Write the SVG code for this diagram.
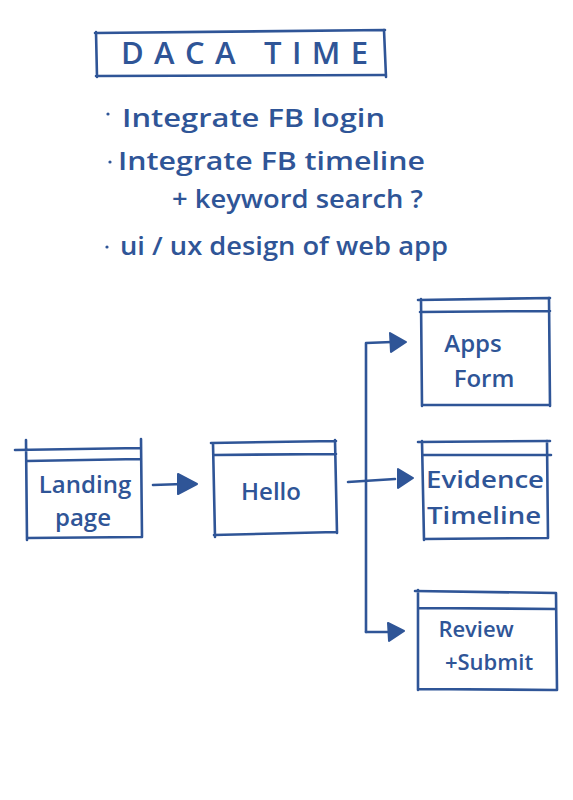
<svg xmlns="http://www.w3.org/2000/svg" width="573" height="800" viewBox="0 0 573 800">
<style>
.ln{fill:none;stroke:#2f5597;stroke-width:2.6;stroke-linecap:round;stroke-linejoin:round}
.tx{font-family:"Open Sans","Liberation Sans",sans-serif;font-weight:600;fill:#2f5597}
.lbl{font-size:24px;text-anchor:middle}
.ah{fill:#2f5597;stroke:#2f5597;stroke-width:2;stroke-linejoin:round}
</style>
<rect width="573" height="800" fill="#ffffff"/>
<g id="title">
<path class="ln" d="M95 33 L385 30 M96 32 L97 77 M96 76 L384 75 M384 30 L386 77"/>
<text class="tx" x="121" y="64" font-size="31" font-weight="500" textLength="247" lengthAdjust="spacing">DACA TIME</text>
</g>
<g id="notes">
<circle cx="108" cy="114" r="1.6" fill="#2f5597"/>
<text class="tx" x="122" y="127" font-size="26" textLength="263" lengthAdjust="spacingAndGlyphs">Integrate FB login</text>
<circle cx="110" cy="162" r="1.6" fill="#2f5597"/>
<text class="tx" x="118" y="170" font-size="26" textLength="307" lengthAdjust="spacingAndGlyphs">Integrate FB timeline</text>
<text class="tx" x="172" y="208" font-size="26" textLength="251" lengthAdjust="spacingAndGlyphs">+ keyword search ?</text>
<circle cx="107" cy="247" r="1.6" fill="#2f5597"/>
<text class="tx" x="120" y="255" font-size="26" textLength="328" lengthAdjust="spacingAndGlyphs">ui / ux design of web app</text>
</g>
<g id="landing">
<path class="ln" d="M15 450 L141 448 M26 440 L27 540 M141 439 L142 537 M27 461 L140 459 M27 538 L141 537"/>
<text class="tx lbl" x="85" y="493">Landing</text>
<text class="tx lbl" x="83" y="526">page</text>
</g>
<g id="hello">
<path class="ln" d="M211 443 L336 441 M213 443 L215 537 M335 440 L337 533 M214 455 L336 454 M214 535 L336 532"/>
<text class="tx lbl" x="271" y="500">Hello</text>
</g>
<g id="apps">
<path class="ln" d="M418 300 L550 298 M421 299 L422 406 M549 298 L550 406 M420 312 L550 311 M422 405 L549 405"/>
<text class="tx lbl" x="473" y="352">Apps</text>
<text class="tx lbl" x="484" y="387">Form</text>
</g>
<g id="evidence">
<path class="ln" d="M418 442 L550 441 M422 441 L424 540 M547 441 L548 538 M423 455 L551 455 M424 539 L548 538"/>
<text class="tx lbl" x="485" y="488" textLength="118" lengthAdjust="spacingAndGlyphs">Evidence</text>
<text class="tx lbl" x="484" y="524" textLength="114" lengthAdjust="spacingAndGlyphs">Timeline</text>
</g>
<g id="review">
<path class="ln" d="M415 591 L556 593 M418 590 L418 690 M556 593 L557 690 M418 608 L556 609 M419 689 L556 690"/>
<text class="tx" x="476" y="637" font-size="22" text-anchor="middle">Review</text>
<text class="tx" x="489" y="670" font-size="22" text-anchor="middle">+Submit</text>
</g>
<g id="connectors">
<path class="ln" d="M153 485 L183 484"/>
<path class="ah" d="M178 474 L197 484 L178 494 Z"/>
<path class="ln" d="M348 482 L395 479"/>
<path class="ah" d="M398 469 L413 478 L398 488 Z"/>
<path class="ln" d="M366 632 L366 343 L392 342"/>
<path class="ah" d="M390 333 L406 342 L391 352 Z"/>
<path class="ln" d="M366 632 L390 632"/>
<path class="ah" d="M388 623 L404 631 L389 641 Z"/>
</g>
</svg>
